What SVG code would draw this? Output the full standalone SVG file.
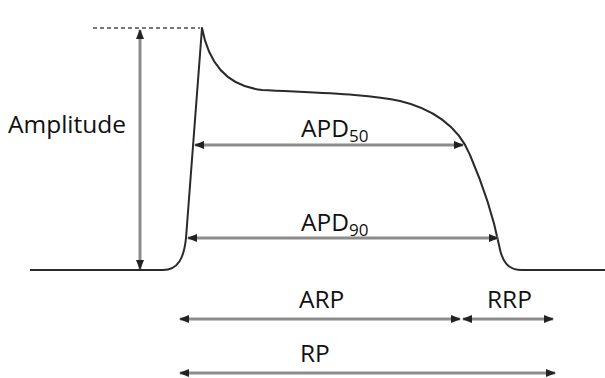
<svg xmlns="http://www.w3.org/2000/svg" width="605" height="378" viewBox="0 0 605 378">
  <style>
    .trace { fill: none; stroke: #2a2a2a; stroke-width: 2; stroke-linejoin: round; }
    .dim { fill: none; stroke: #8c8c8c; stroke-width: 3; marker-start: url(#tip); marker-end: url(#tip); }
    .guide { fill: none; stroke: #777; stroke-width: 2; stroke-dasharray: 4 3; }
    .lbl { font-family: "Open Sans", "Noto Sans", "DejaVu Sans", sans-serif; font-size: 24.5px; fill: #111; }
    .sub { font-size: 17px; }
  </style>
  <defs>
    <marker id="tip" viewBox="0 0 10 8" refX="9" refY="4" markerWidth="10" markerHeight="8" markerUnits="userSpaceOnUse" orient="auto-start-reverse">
      <path d="M0,0 L10,4 L0,8 z" fill="#222"/>
    </marker>
  </defs>
  <rect width="605" height="378" fill="#fff"/>

  <!-- action potential trace -->
  <g id="trace">
    <path class="trace" d="M30,270 L163,270 C178,270 184,258 186,238 L202,28 C208,60 225,86 262,90 C320,93 370,94 400,101 C430,108 458,125 470,155 C485,190 495,225 499,245 C502,262 508,270 522,270 L605,270"/>
  </g>

  <!-- peak level guide -->
  <g id="peak-guide">
    <line class="guide" x1="93" y1="28" x2="200" y2="28"/>
  </g>

  <!-- measurement arrows -->
  <g id="connectors">
    <line class="dim" x1="140" y1="30" x2="140" y2="269"/>
    <line class="dim" x1="195" y1="145" x2="463" y2="145"/>
    <line class="dim" x1="188" y1="238" x2="498" y2="238"/>
    <line class="dim" x1="180" y1="319" x2="460" y2="319"/>
    <line class="dim" x1="463" y1="319" x2="553" y2="319"/>
    <line class="dim" x1="180" y1="373" x2="555" y2="373"/>
  </g>

  <g id="amplitude"><text class="lbl" x="8" y="133">Amplitude</text></g>
  <g id="apd50"><text class="lbl" x="301" y="137">APD<tspan class="sub" dy="5">50</tspan></text></g>
  <g id="apd90"><text class="lbl" x="301" y="231">APD<tspan class="sub" dy="5">90</tspan></text></g>
  <g id="arp"><text class="lbl" x="299" y="308">ARP</text></g>
  <g id="rrp"><text class="lbl" x="487" y="308">RRP</text></g>
  <g id="rp"><text class="lbl" x="300" y="362">RP</text></g>
</svg>
